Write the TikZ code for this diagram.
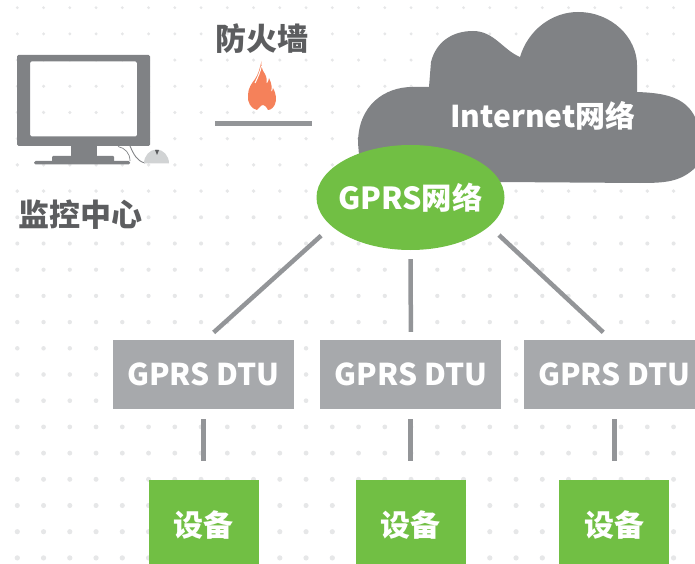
\documentclass[tikz,border=0pt]{standalone}
\usepackage{fontspec}
\usepackage{tikz}
\usetikzlibrary{positioning, shapes.geometric}
\setmainfont{Noto Sans CJK SC}
\definecolor{leafgreen}{HTML}{71BF44}
\definecolor{cloudgray}{HTML}{808285}
\definecolor{boxgray}{HTML}{A7A9AC}
\definecolor{linegray}{HTML}{939598}
\definecolor{inkgray}{HTML}{5C5D5F}
\definecolor{dotgray}{HTML}{E6E7E8}
\definecolor{flameorange}{HTML}{F5815A}
\definecolor{mousegray}{HTML}{D1D3D4}
\tikzset{
    caption/.style={font=\fontsize{31}{31}\selectfont\bfseries, text=inkgray, inner sep=0pt},
    whitetext/.style={font=\fontsize{30}{31}\selectfont\bfseries, text=white, inner sep=0pt},
    dtubox/.style={whitetext, fill=boxgray, minimum width=181pt, minimum height=69pt},
    devbox/.style={whitetext, fill=leafgreen, minimum width=110pt, minimum height=90pt},
    netellipse/.style={whitetext, font=\fontsize{30.4}{31}\selectfont\bfseries, ellipse, fill=leafgreen, inner xsep=-12pt, minimum width=188pt, minimum height=105pt},
    uplink/.style={draw=linegray, line width=4.5pt},
}

\begin{document}
\begin{tikzpicture}[x=1pt, y=-1pt]
    \useasboundingbox (0,0) rectangle (695,564);

    \foreach \i in {0,...,25}
      \foreach \j in {0,...,21} {
        \pgfmathsetmacro{\dotr}{1.6+\j*0.05}
        \fill[dotgray] (17.3+26.25*\i, 7.7+26.2*\j) circle[radius=\dotr];
      }

    \begin{scope}
      \clip (0,0) rectangle (695,564);

      \fill[cloudgray] (358,143) .. controls (358,105) and (385,87) .. (412,87)
        -- (429,87) -- (431,62) .. controls (436,42) and (452,31) .. (473,31)
        .. controls (494,31) and (503,50) .. (520,57)
        .. controls (528,30) and (552,12) .. (578,12)
        .. controls (612,12) and (637,38) .. (637,65) -- (637,92)
        .. controls (665,93) and (685,97) .. (695,117) -- (695,168)
        .. controls (680,182) and (665,183) .. (640,183)
        -- (500,182) -- (400,170) -- (359,155) -- cycle;

      \node[netellipse] (gprs) at (410.5,197.5) {GPRS网络};
      \node[whitetext] (inet) at (543,116) {Internet网络};

      \node[dtubox] (dtu1) at (203.5,374.5) {GPRS DTU};
      \node[dtubox, right=26pt of dtu1] (dtu2) {GPRS DTU};
      \node[dtubox, right=22pt of dtu2] (dtu3) {GPRS DTU};

      \node[devbox, below=71pt of dtu1] (dev1) {设备};
      \node[devbox, below=71pt of dtu2] (dev2) {设备};
      \node[devbox, below=71pt of dtu3] (dev3) {设备};
    \end{scope}

    \draw[uplink, shorten <=14pt, shorten >=11pt] (gprs.200) -- ([xshift=2pt]dtu1.north);
    \draw[uplink, shorten <=9pt, shorten >=8pt] (gprs.south) -- (dtu2.north);
    \draw[uplink, shorten <=13pt, shorten >=11pt] (gprs.-20) -- ([xshift=-3pt]dtu3.north);
    \foreach \n in {1,2,3}
      \draw[uplink, line width=5pt, shorten <=10pt, shorten >=19pt] (dtu\n.south) -- (dev\n.north);

    \fill[cloudgray, rounded corners=1.5pt, even odd rule] (17,55) rectangle (150,146)
      (30,61.5) rectangle (137,136.5);
    \fill[cloudgray] (70.5,146) rectangle (96.5,156);
    \fill[cloudgray, rounded corners=1pt] (52,156) rectangle (114,162);
    \fill[cloudgray, rounded corners=1.5pt] (34,161) rectangle (130,164.5);
    \draw[cloudgray, line width=0.7pt] (118,146.5) .. controls (125,148) and (130,153) .. (130,161);
    \draw[cloudgray, line width=0.9pt] (130,146) .. controls (134,155) and (137,161) .. (145,163);
    \fill[mousegray] (144,163.5) arc[start angle=180, end angle=360, x radius=12.5, y radius=14] -- cycle;
    \fill[inkgray] (155,150) -- (159,150) -- (157,155) -- cycle;

    \fill[flameorange] (261.5,61) .. controls (261,66) and (262,70) .. (265,74)
      .. controls (267,78) and (267,81) .. (266.5,84)
      .. controls (268,82) and (269,80) .. (269,78)
      .. controls (272,84) and (272,88) .. (271,92)
      .. controls (272,91) and (273,90) .. (273,88)
      .. controls (276,93) and (277,100) .. (275,104)
      .. controls (274,107) and (271,110) .. (268,110)
      .. controls (266,106) and (264,105) .. (263,105)
      .. controls (261,105) and (259,108) .. (257,110)
      .. controls (251,109) and (247,102) .. (248,95)
      .. controls (248,88) and (252,83) .. (255,79)
      .. controls (258,75) and (260,68) .. (261.5,61) -- cycle;
    \draw[white, line width=1pt] (261.5,66) .. controls (260,72) and (258,77) .. (255,83);
    \draw[linegray, line width=4.7pt] (215,123.5) -- (312,123.5);

    \node[caption] (wall) at (262,39) {防火墙};
    \node[caption] (center) at (80,215) {监控中心};
\end{tikzpicture}
\end{document}
